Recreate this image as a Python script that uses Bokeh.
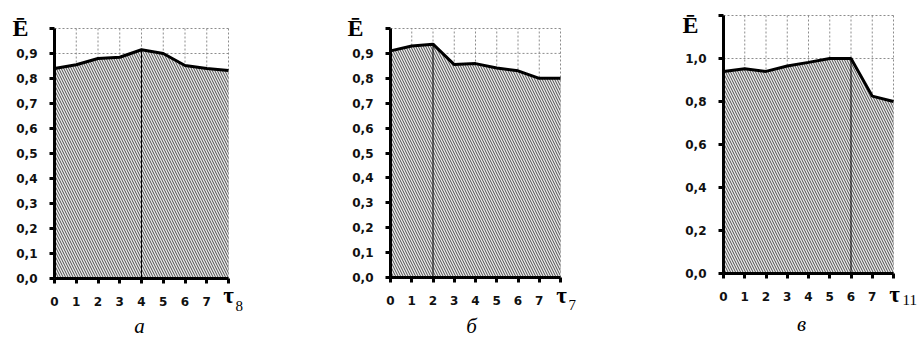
from bokeh.plotting import figure
from bokeh.layouts import row
from bokeh.models import FixedTicker, Label, Range1d
from bokeh.embed import file_html
from bokeh.resources import INLINE

# ---- data ----
tau = [0, 1, 2, 3, 4, 5, 6, 7, 8]
x_tick_labels = ["0", "1", "2", "3", "4", "5", "6", "7", ""]

E_a = [0.84, 0.855, 0.88, 0.885, 0.915, 0.90, 0.852, 0.84, 0.832]
E_b = [0.91, 0.93, 0.937, 0.855, 0.859, 0.841, 0.83, 0.80, 0.80]
E_c = [0.94, 0.952, 0.94, 0.965, 0.982, 1.0, 1.0, 0.825, 0.80]

peak_a, peak_b, peak_c = 4, 2, 6

yticks_ab = [0.0, 0.1, 0.2, 0.3, 0.4, 0.5, 0.6, 0.7, 0.8, 0.9, 1.0]
ylabels_ab = ["0,0", "0,1", "0,2", "0,3", "0,4", "0,5", "0,6", "0,7", "0,8", "0,9", ""]
yticks_c = [0.0, 0.2, 0.4, 0.6, 0.8, 1.0, 1.2]
ylabels_c = ["0,0", "0,2", "0,4", "0,6", "0,8", "1,0", ""]

sub_a, sub_b, sub_c = "8", "7", "11"
letter_a, letter_b, letter_c = "а", "б", "в"

LABEL_FONT = "DejaVu Sans"
SERIF = "Liberation Serif"
H = 338
TEXT_SHIFT = 8   # rendered labels sit this many px below the requested baseline


def panel(E, peak, yticks, ylabels, sub, letter, g):
    W = g["W"]
    ox, oy = g["origin"]          # pixel position of (0, 0) inside the canvas
    kx, ky = g["scale"]           # pixels per data unit
    xr = Range1d(-ox / kx, (W - ox) / kx)
    yr = Range1d(-(H - oy) / ky, oy / ky)
    p = figure(frame_width=W, frame_height=H, min_border=0,
               x_range=xr, y_range=yr,
               output_backend="svg", toolbar_location=None)
    p.outline_line_color = None
    p.background_fill_color = "white"
    p.border_fill_color = "white"
    p.xgrid.visible = False
    p.ygrid.visible = False

    def px(X, Y):
        return (X - ox) / kx, (oy - (Y - TEXT_SHIFT)) / ky

    xmax = tau[-1]
    ymax = yticks[-1]
    # dashed grid (drawn first, covered by the area)
    gx = tau[1:]
    p.segment(x0=gx, y0=[0] * len(gx), x1=gx, y1=[ymax] * len(gx),
              line_color="#8c8c8c", line_dash="2 2", line_width=1)
    gy = yticks[1:]
    p.segment(x0=[0] * len(gy), y0=gy, x1=[xmax] * len(gy), y1=gy,
              line_color="#8c8c8c", line_dash="2 2", line_width=1)

    # hatched area
    p.varea(x=tau, y1=[0] * len(tau), y2=E, fill_color="#ececec",
            hatch_pattern="\\", hatch_color="#4d4d4d", hatch_weight=1,
            hatch_scale=5)
    p.line(tau, E, line_color="black", line_width=3)
    p.segment(x0=[tau[peak]], y0=[0], x1=[tau[peak]], y1=[E[peak]],
              line_color="black", line_width=1)

    # axes placed at the origin
    xa = p.xaxis[0]
    xa.fixed_location = 0
    xa.bounds = (0, xmax)
    xa.ticker = FixedTicker(ticks=tau)
    xa.major_label_overrides = {t: lab for t, lab in zip(tau, x_tick_labels)}
    ya = p.yaxis[0]
    ya.fixed_location = 0
    ya.bounds = (0, ymax)
    ya.ticker = FixedTicker(ticks=yticks)
    ya.major_label_overrides = {t: lab for t, lab in zip(yticks, ylabels)}
    for ax in (xa, ya):
        ax.axis_line_width = 3
        ax.axis_line_color = "black"
        ax.major_tick_line_width = 3
        ax.major_tick_line_color = "black"
        ax.major_tick_out = 5
        ax.major_tick_in = 0
        ax.minor_tick_line_color = None
        ax.major_label_text_font = LABEL_FONT
        ax.major_label_text_font_style = "bold"
        ax.major_label_text_font_size = "12px"
        ax.major_label_text_color = "#111111"
    xa.major_label_standoff = 13
    ya.major_label_standoff = 12

    # Ē
    ex, ey = px(*g["E"])
    p.add_layout(Label(x=ex, y=ey, text="Ē", text_font=SERIF,
                       text_font_style="bold", text_font_size="24px",
                       text_color="black", text_align="left",
                       text_baseline="alphabetic"))
    # τ with subscript
    tx, ty = px(*g["tau"])
    p.add_layout(Label(x=tx, y=ty, text="τ", text_font=SERIF,
                       text_font_style="bold", text_font_size="23px",
                       text_color="black", text_align="center",
                       text_baseline="alphabetic"))
    sx, sy = px(*g["sub"])
    p.add_layout(Label(x=sx, y=sy, text=sub, text_font=SERIF,
                       text_font_size="15px", text_color="black",
                       text_align="left", text_baseline="alphabetic"))
    # panel letter
    lx, ly = px(*g["letter"])
    p.add_layout(Label(x=lx, y=ly, text=letter, text_font=SERIF,
                       text_font_style="italic", text_font_size="21px",
                       text_color="black", text_align="center",
                       text_baseline="alphabetic"))
    return p


# layout (canvas pixels of each panel; panels start at x = 0, 308, 615)
geom_a = {"W": 308, "origin": (54, 278), "scale": (21.75, 250),
          "E": (12, 35), "tau": (228, 303), "sub": (235, 313),
          "letter": (139, 333)}
geom_b = {"W": 307, "origin": (82, 277), "scale": (21.25, 249),
          "E": (39, 35), "tau": (253, 303), "sub": (260, 312),
          "letter": (163, 333)}
geom_c = {"W": 308, "origin": (108, 273), "scale": (21.25, 215),
          "E": (67, 32), "tau": (279, 302), "sub": (287, 307),
          "letter": (186, 331)}

pa = panel(E_a, peak_a, yticks_ab, ylabels_ab, sub_a, letter_a, geom_a)
pb = panel(E_b, peak_b, yticks_ab, ylabels_ab, sub_b, letter_b, geom_b)
pc = panel(E_c, peak_c, yticks_c, ylabels_c, sub_c, letter_c, geom_c)

p = row(pa, pb, pc)
open("out.html", "w").write(file_html(p, INLINE))
